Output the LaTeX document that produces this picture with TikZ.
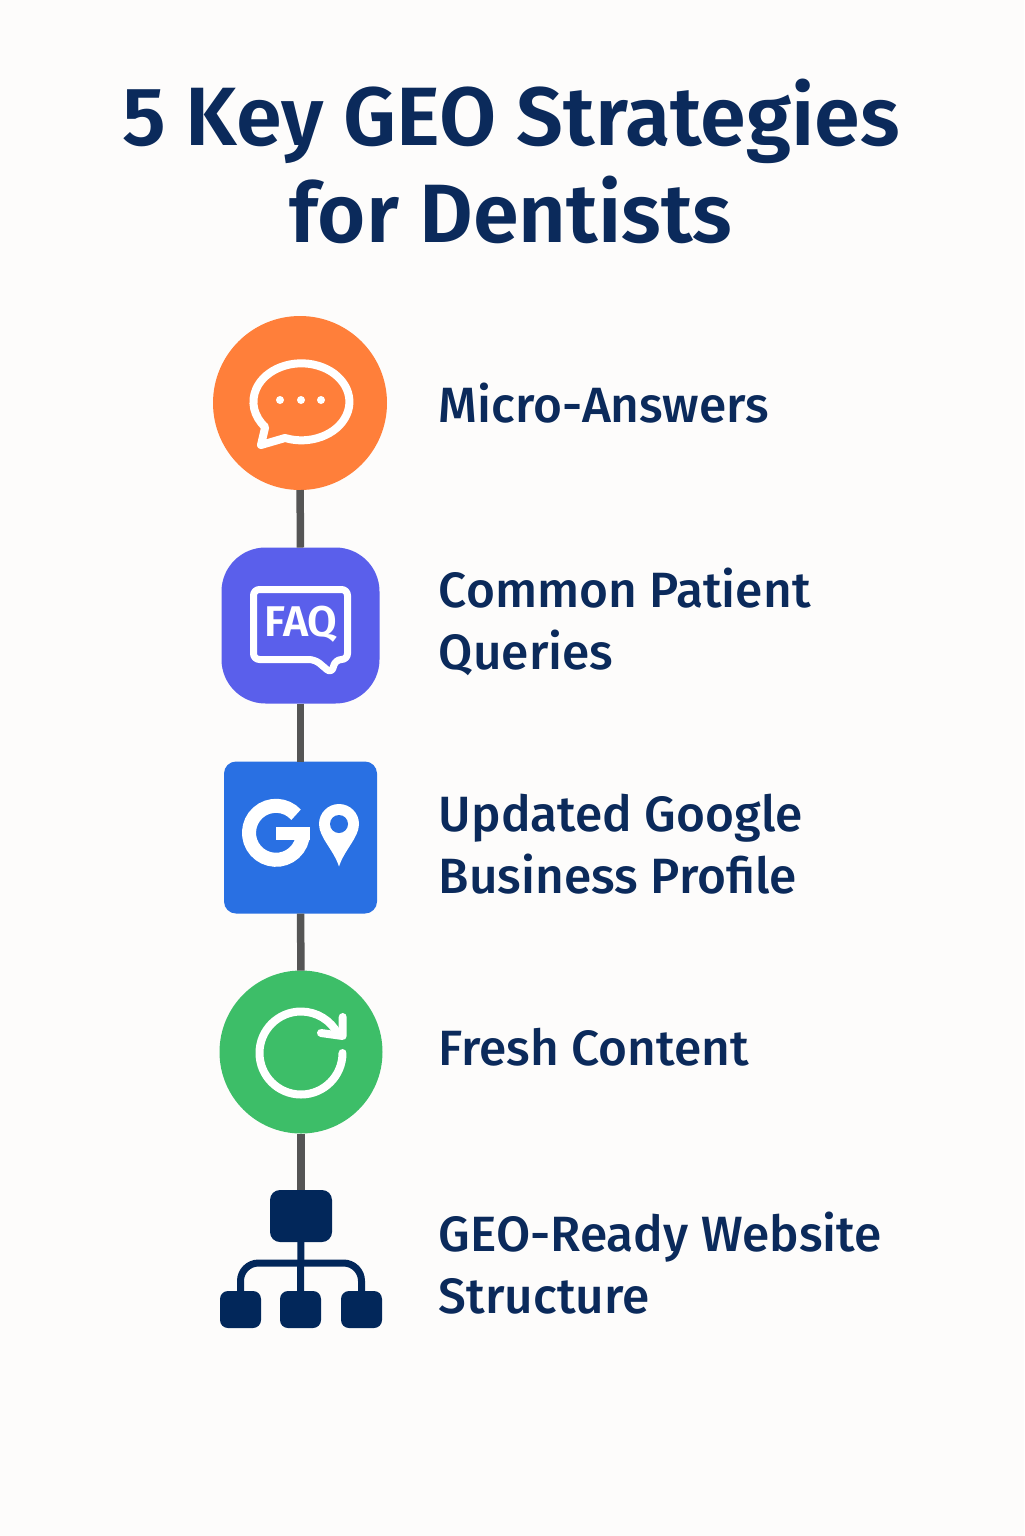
\documentclass[tikz,border=0pt]{standalone}
\usepackage{fontspec}
\setmainfont{Fira Sans}
\newfontfamily\labelfont{Fira Sans Medium}
\newfontfamily\headfont{Fira Sans SemiBold}
\definecolor{pagebg}{HTML}{FDFCFB}
\definecolor{inkblue}{HTML}{0B2A5B}
\definecolor{sitenavy}{HTML}{02275A}
\definecolor{stemgray}{HTML}{555555}
\definecolor{chatorange}{HTML}{FF7F3A}
\definecolor{faqindigo}{HTML}{5A5FEB}
\definecolor{mapblue}{HTML}{2970E3}
\definecolor{freshgreen}{HTML}{3DBE68}
\tikzset{
  titletext/.style={text=inkblue, font=\fontsize{41.4}{48.5}\selectfont\headfont, align=center, inner sep=0pt},
  steplabel/.style={text=inkblue, font=\fontsize{24.8}{31}\selectfont\labelfont, align=left, anchor=west, inner sep=0pt},
  iconbox/.style={inner sep=0pt, outer sep=0pt},
  stem/.style={stemgray, line width=3.75pt},
  whiteline/.style={white, line cap=round, line join=round},
  sitelink/.style={sitenavy, line width=3.5pt},
  sitebox/.style={iconbox, fill=sitenavy, rounded corners=4pt, minimum width=20.5pt, minimum height=18.5pt}
}
\begin{document}
\begin{tikzpicture}[x=0.5pt,y=0.5pt]
    \useasboundingbox[fill=pagebg] (0,0) rectangle (1024,-1536);

    \node[titletext] (title) at (511,-161) {5 Key GEO Strategies\\for Dentists};

    % icons down the left
    \node[iconbox, circle, fill=chatorange, minimum size=87pt] (chat) at (300,-403) {};
    \node[iconbox, rectangle, fill=faqindigo, rounded corners=22pt, minimum width=79pt, minimum height=78pt] (faq) at (300.5,-625.5) {};
    \node[iconbox, rectangle, fill=mapblue, rounded corners=6pt, minimum width=76.5pt, minimum height=76pt] (gmap) at (300.5,-837.5) {};
    \node[iconbox, circle, fill=freshgreen, minimum size=81.5pt] (fresh) at (301,-1052) {};
    \node[sitebox, minimum width=31pt, minimum height=26pt, rounded corners=5pt] (sitetop) at (301,-1216) {};
    \node[sitebox] (siteleft) at (240.5,-1309.5) {};
    \node[sitebox] (sitemid) at (300.5,-1309.5) {};
    \node[sitebox] (siteright) at (361.5,-1309.5) {};
    \coordinate (sitebar) at (301,-1263);

    \draw[stem] (chat) -- (faq);
    \draw[stem] (faq) -- (gmap);
    \draw[stem] (gmap) -- (fresh);
    \draw[stem] (fresh) -- (sitetop);
    \draw[sitelink] (sitetop) -- (sitemid);
    \draw[sitelink, rounded corners=9pt] (siteleft) |- (sitebar) -| (siteright);

    % speech bubble
    \begin{scope}[shift={(chat.center)}]
        \draw[whiteline, line width=4pt] (-15,-35) arc[start angle=250, end angle=581, x radius=48, y radius=38.5] -- (-39,-42) -- cycle;
        \fill[white] (-20,3) circle (4) (1,3) circle (4) (21,3) circle (4);
    \end{scope}

    % faq bubble
    \begin{scope}[shift={(faq.center)}]
        \draw[whiteline, line width=3.5pt, rounded corners=3pt] (-47,36) -- (47,36) -- (47,-34) -- (35,-34) -- (31,-48) -- (14.5,-34) -- (-47,-34) -- cycle;
        \node[iconbox, text=white, font=\fontsize{21.5}{21.5}\selectfont\headfont] (faqtext) at (0.5,1.5) {FAQ};
    \end{scope}

    % g and pin
    \begin{scope}[shift={(gmap.center)}]
        \draw[white, line width=7pt] (-24.5,4.7) ++(42:27) arc[start angle=42, end angle=360, radius=27];
        \fill[white] (-24.5,10.5) rectangle (9.5,-2.5);
        \fill[white] (38.5,-29) .. controls (33,-12) and (18.5,0) .. (18.5,13.5) arc[start angle=180, end angle=0, radius=20] .. controls (58.5,0) and (44,-12) .. (38.5,-29) -- cycle;
        \fill[mapblue] (38.5,13.5) circle (9);
    \end{scope}

    % refresh
    \begin{scope}[shift={(fresh.center)}]
        \draw[whiteline, line width=4pt] (41.5,-1) arc[start angle=0, end angle=-333, radius=41.5];
        \draw[whiteline, line width=4pt] (41.7,35) -- (41.7,16) -- (20,19);
    \end{scope}

    \node[steplabel] (lblchat) at (438.5,-403) {Micro-Answers};
    \node[steplabel] (lblfaq) at (438.5,-622) {Common Patient\\Queries};
    \node[steplabel] (lblgmap) at (438.5,-844) {Updated Google\\Business Profile};
    \node[steplabel] (lblfresh) at (438.5,-1047) {Fresh Content};
    \node[steplabel] (lblsite) at (438.5,-1263) {GEO-Ready Website\\Structure};
\end{tikzpicture}
\end{document}
